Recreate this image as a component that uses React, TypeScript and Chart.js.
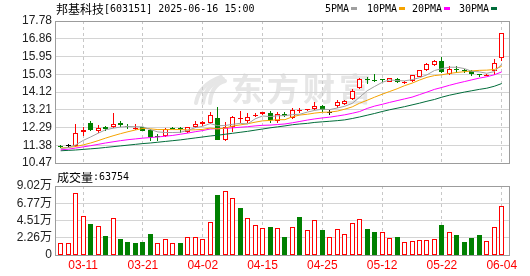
import React, { useEffect, useRef } from "react";
import { Chart, registerables } from "chart.js";

Chart.register(...registerables);

// ---------------- data ----------------
const STOCK_NAME = "邦基科技";
const STOCK_INFO = "[603151] 2025-06-16 15:00";
const VOLUME_TITLE = "成交量";
const LAST_VOLUME = "63754";
const WATERMARK = "东方财富";
const MA_LABELS = ["5PMA", "10PMA", "20PMA", "30PMA"];

const DATE_INDEX = [3, 11, 19, 27, 35, 43, 51, 59];
const DATE_LABELS = ["03-11", "03-21", "04-02", "04-15", "04-25", "05-12", "05-22", "06-04"];

const PRICE_TICKS = [10.47, 11.38, 12.29, 13.21, 14.12, 15.03, 15.95, 16.86, 17.78];
const VOLUME_TICKS = [0, 22550, 45100, 67650, 90200];
const VOLUME_TICK_LABELS = ["0", "2.26万", "4.51万", "6.77万", "9.02万"];

const PREV_CLOSE = 11.25;

const OPEN = [11.33, 11.32, 11.35, 12.05, 12.51, 12.12, 12.31, 12.33, 12.53, 12.39, 12.24, 12.30, 12.16, 11.84, 11.85, 12.27, 12.23, 12.05, 12.32, 12.48, 12.53, 12.80, 11.63, 12.32, 12.75, 12.65, 12.90, 13.00, 13.06, 12.65, 13.00, 12.80, 13.14, 13.18, 13.26, 13.38, 13.06, 13.38, 13.50, 13.78, 14.33, 14.75, 14.70, 14.74, 14.65, 14.78, 14.58, 14.67, 14.92, 15.24, 15.50, 15.70, 15.03, 15.28, 15.22, 15.19, 15.00, 14.96, 15.20, 15.90];
const HIGH = [11.40, 11.44, 12.47, 12.30, 12.62, 12.41, 12.36, 13.03, 12.62, 12.47, 12.46, 12.33, 12.20, 11.95, 12.28, 12.31, 12.34, 12.34, 12.62, 12.62, 13.11, 13.33, 12.57, 12.88, 13.13, 13.06, 13.04, 13.12, 13.14, 13.11, 13.12, 13.28, 13.28, 13.25, 13.62, 13.45, 13.21, 13.73, 13.70, 14.28, 14.86, 14.88, 15.07, 14.78, 14.86, 14.82, 14.68, 15.02, 15.28, 15.62, 15.78, 15.92, 15.45, 15.45, 15.30, 15.26, 15.06, 15.03, 15.82, 17.18];
const LOW = [11.22, 11.24, 11.30, 11.85, 12.12, 12.00, 12.14, 12.29, 12.30, 12.23, 12.17, 12.10, 11.62, 11.62, 11.82, 12.20, 12.04, 11.99, 12.26, 12.40, 12.50, 11.64, 11.62, 12.05, 12.52, 12.52, 12.82, 12.93, 12.55, 12.55, 12.85, 12.72, 13.02, 13.14, 13.20, 13.10, 12.92, 13.30, 13.45, 13.72, 14.28, 14.55, 14.66, 14.65, 14.62, 14.58, 14.55, 14.63, 14.88, 15.20, 15.45, 15.08, 14.98, 15.10, 15.12, 14.96, 14.90, 14.93, 15.00, 15.70];
const CLOSE = [11.31, 11.32, 12.04, 12.19, 12.18, 12.29, 12.20, 12.46, 12.45, 12.33, 12.27, 12.12, 11.80, 11.82, 12.20, 12.24, 12.20, 12.30, 12.49, 12.57, 12.94, 11.66, 12.32, 12.82, 12.80, 12.82, 12.94, 13.08, 12.66, 12.99, 12.90, 13.19, 13.16, 13.22, 13.43, 13.21, 13.06, 13.60, 13.65, 14.20, 14.78, 14.73, 14.68, 14.72, 14.82, 14.62, 14.65, 14.98, 15.24, 15.55, 15.72, 15.15, 15.33, 15.25, 15.20, 15.03, 14.98, 15.01, 15.62, 17.18];

const VOLUME = [15300, 15300, 80600, 50500, 40500, 37500, 24800, 47900, 20900, 17000, 15700, 17000, 27500, 15300, 20500, 15300, 15700, 23100, 23100, 20500, 42700, 78400, 83200, 74100, 61400, 47900, 38800, 34900, 36600, 34900, 23500, 36200, 49700, 32200, 45300, 32700, 23100, 33600, 27000, 41400, 46600, 34000, 30100, 29600, 21800, 23500, 17000, 18300, 19600, 19600, 20500, 39200, 29600, 26100, 17000, 22200, 26100, 18300, 36200, 63754];

const MA5 = [11.21, 11.26, 11.40, 11.63, 11.81, 12.00, 12.18, 12.26, 12.32, 12.35, 12.34, 12.33, 12.19, 12.07, 12.04, 12.04, 12.05, 12.15, 12.29, 12.36, 12.50, 12.39, 12.40, 12.46, 12.51, 12.48, 12.74, 12.89, 12.86, 12.90, 12.91, 12.96, 12.98, 13.09, 13.18, 13.24, 13.22, 13.30, 13.39, 13.54, 13.86, 14.19, 14.41, 14.62, 14.75, 14.71, 14.70, 14.76, 14.86, 15.01, 15.23, 15.33, 15.40, 15.40, 15.33, 15.19, 15.16, 15.09, 15.17, 15.56];
const MA10 = [11.24, 11.27, 11.32, 11.40, 11.50, 11.62, 11.75, 11.87, 11.98, 12.08, 12.17, 12.25, 12.23, 12.19, 12.19, 12.19, 12.19, 12.17, 12.18, 12.20, 12.27, 12.22, 12.27, 12.37, 12.43, 12.49, 12.57, 12.64, 12.66, 12.70, 12.70, 12.85, 12.94, 12.98, 13.04, 13.08, 13.09, 13.14, 13.24, 13.36, 13.55, 13.70, 13.86, 14.01, 14.15, 14.29, 14.45, 14.58, 14.74, 14.88, 14.97, 15.01, 15.08, 15.13, 15.17, 15.21, 15.24, 15.25, 15.28, 15.45];
const MA20 = [11.15, 11.18, 11.24, 11.30, 11.36, 11.43, 11.50, 11.56, 11.62, 11.67, 11.71, 11.75, 11.78, 11.81, 11.85, 11.89, 11.95, 12.01, 12.08, 12.14, 12.22, 12.24, 12.25, 12.28, 12.31, 12.34, 12.38, 12.41, 12.42, 12.45, 12.48, 12.54, 12.61, 12.68, 12.74, 12.79, 12.83, 12.89, 12.95, 13.03, 13.12, 13.28, 13.40, 13.49, 13.59, 13.68, 13.77, 13.86, 13.99, 14.12, 14.26, 14.36, 14.47, 14.57, 14.66, 14.75, 14.84, 14.91, 15.01, 15.16];
const MA30 = [11.10, 11.12, 11.14, 11.17, 11.20, 11.23, 11.27, 11.31, 11.35, 11.39, 11.43, 11.47, 11.50, 11.54, 11.58, 11.62, 11.66, 11.71, 11.76, 11.81, 11.86, 11.90, 11.95, 12.00, 12.05, 12.10, 12.16, 12.22, 12.28, 12.33, 12.38, 12.44, 12.48, 12.51, 12.56, 12.59, 12.62, 12.65, 12.69, 12.76, 12.84, 12.93, 13.02, 13.12, 13.21, 13.29, 13.37, 13.46, 13.55, 13.65, 13.74, 13.86, 13.96, 14.04, 14.12, 14.19, 14.26, 14.32, 14.42, 14.56];

// ---------------- styles ----------------
const RED = "#ff0000";
const GREEN = "#008000";
const BLACK = "#000000";
const MA_COLORS = ["#a0a0a0", "#f5a300", "#ff00ff", "#006c3a"];
const GRID = "#d4d4d4";
const DASH_GRID = "#c8c8c8";
const FRAME = "#9c9c9c";
const FONT = '"Liberation Sans", Arial, "Noto Sans CJK SC", sans-serif';
const X_MIN = -0.7625;
const X_MAX = 59.973;

const candleColor = (i: number) =>
  CLOSE[i] > OPEN[i] ? RED : CLOSE[i] < OPEN[i] ? GREEN : BLACK;
const volumeUp = (i: number) => {
  if (CLOSE[i] === OPEN[i]) return true;
  const prev = i === 0 ? PREV_CLOSE : CLOSE[i - 1];
  return CLOSE[i] >= prev;
};

const snapPlugin = {
  id: "snapBars",
  afterDatasetsUpdate(chart: any) {
    chart.data.datasets.forEach((_: any, di: number) => {
      const meta = chart.getDatasetMeta(di);
      if (meta.type !== "bar") return;
      meta.data.forEach((el: any) => {
        el.x = Math.floor(el.x) + 0.5;
        el.y = Math.round(el.y);
        el.base = Math.round(el.base);
        if (Math.abs(el.base - el.y) < 1) el.base = el.y + 1;
      });
    });
  },
};

const drawFrame = (chart: any) => {
  const { ctx, chartArea: a } = chart;
  ctx.save();
  ctx.strokeStyle = FRAME;
  ctx.lineWidth = 1;
  ctx.strokeRect(a.left + 0.5, a.top + 0.5, a.right - a.left, a.bottom - a.top);
  ctx.restore();
};

const priceDecor = {
  id: "priceDecor",
  beforeDraw(chart: any) {
    const ctx = chart.ctx;
    ctx.save();
    ctx.fillStyle = "#e6e6e6";
    ctx.strokeStyle = "#e6e6e6";
    // logo swoosh
    ctx.lineWidth = 4;
    ctx.lineCap = "round";
    for (let k = 0; k < 3; k++) {
      ctx.beginPath();
      ctx.moveTo(196 + k * 7, 103);
      ctx.quadraticCurveTo(199 + k * 6, 85, 221 + k * 2, 77 + k * 2);
      ctx.stroke();
    }
    ctx.font = 'bold 32px "Noto Sans CJK SC"';
    ctx.textBaseline = "middle";
    (ctx as any).letterSpacing = "4px";
    ctx.fillText(WATERMARK, 231, 89);
    ctx.restore();
  },
  beforeDatasetsDraw(chart: any) {
    drawFrame(chart);
  },
  afterDraw(chart: any) {
    const ctx = chart.ctx;
    ctx.save();
    ctx.fillStyle = "#000";
    ctx.textBaseline = "middle";
    ctx.font = '12px "Noto Sans CJK SC"';
    ctx.fillText(STOCK_NAME, 56, 9);
    const w = ctx.measureText(STOCK_NAME).width;
    ctx.font = '10px "DejaVu Sans Mono"';
    ctx.fillText(STOCK_INFO, 56 + w, 9);
    const xs = [325, 367, 412, 459];
    MA_LABELS.forEach((t, k) => {
      ctx.fillStyle = "#000";
      ctx.fillText(t, xs[k], 9);
      const tw = ctx.measureText(t).width;
      ctx.fillStyle = MA_COLORS[k];
      ctx.fillRect(Math.round(xs[k] + tw + 2), 7, 6, 3);
    });
    ctx.restore();
  },
};

const volumeDecor = {
  id: "volumeDecor",
  beforeDatasetsDraw(chart: any) {
    drawFrame(chart);
  },
  afterDraw(chart: any) {
    const ctx = chart.ctx;
    ctx.save();
    ctx.fillStyle = "#000";
    ctx.textBaseline = "middle";
    ctx.font = '12px "Noto Sans CJK SC"';
    ctx.fillText(VOLUME_TITLE, 57, 5);
    const w = ctx.measureText(VOLUME_TITLE).width;
    ctx.font = '10px "DejaVu Sans Mono"';
    ctx.fillText(":" + LAST_VOLUME, 57 + w, 5);
    ctx.restore();
  },
};

const xScale = (showLabels: boolean) => ({
  type: "linear",
  min: X_MIN,
  max: X_MAX,
  offset: false,
  afterBuildTicks: (s: any) => {
    s.ticks = DATE_INDEX.map((v) => ({ value: v }));
  },
  afterFit: (s: any) => {
    s.height = showLabels ? 21 : 0;
  },
  ticks: {
    display: showLabels,
    autoSkip: false,
    maxRotation: 0,
    padding: 3,
    color: RED,
    font: { family: FONT, size: 12 },
    callback: (_v: any, i: number) => DATE_LABELS[i],
  },
  grid: { color: DASH_GRID, drawTicks: false, offset: false, lineWidth: 1 },
  border: { display: false, dash: [3, 3] },
});

export default function App() {
  const priceRef = useRef<HTMLCanvasElement>(null);
  const volRef = useRef<HTMLCanvasElement>(null);

  useEffect(() => {
    const idx = OPEN.map((_, i) => i);
    const maLine = (vals: number[], k: number) => ({
      type: "line",
      label: MA_LABELS[k],
      data: vals.map((v, i) => ({ x: i, y: v })),
      borderColor: MA_COLORS[k],
      borderWidth: 1,
      pointRadius: 0,
      fill: false,
      tension: 0,
      order: 0,
    });

    const pc = new Chart(priceRef.current as HTMLCanvasElement, {
      type: "bar",
      data: {
        datasets: [
          maLine(MA5, 0),
          maLine(MA10, 1),
          maLine(MA20, 2),
          maLine(MA30, 3),
          {
            type: "bar",
            label: "body",
            data: idx.map((i) => ({ x: i, y: [OPEN[i], CLOSE[i]] })),
            backgroundColor: idx.map((i) => (CLOSE[i] > OPEN[i] ? "#ffffff" : candleColor(i))),
            borderColor: idx.map((i) => candleColor(i)),
            borderWidth: 1,
            borderSkipped: false,
            grouped: false,
            barThickness: 5,
            maxBarThickness: 5,
            minBarLength: 1,
            inflateAmount: 0,
            order: 1,
          },
          {
            type: "bar",
            label: "wick",
            data: idx.map((i) => ({ x: i, y: [LOW[i], HIGH[i]] })),
            backgroundColor: idx.map((i) => candleColor(i)),
            borderWidth: 0,
            grouped: false,
            barThickness: 1,
            maxBarThickness: 1,
            inflateAmount: 0,
            order: 2,
          },
        ],
      } as any,
      options: {
        responsive: false,
        animation: false,
        events: [],
        layout: { padding: { left: 0, top: 21, right: 21, bottom: 7 }, autoPadding: false },
        plugins: { legend: { display: false }, tooltip: { enabled: false } },
        scales: {
          x: xScale(false),
          y: {
            type: "linear",
            position: "left",
            min: PRICE_TICKS[0],
            max: PRICE_TICKS[PRICE_TICKS.length - 1],
            beginAtZero: false,
            afterBuildTicks: (s: any) => {
              s.ticks = PRICE_TICKS.map((v) => ({ value: v }));
            },
            afterFit: (s: any) => {
              s.width = 55;
            },
            ticks: {
              autoSkip: false,
              padding: 3,
              color: "#222",
              font: { family: FONT, size: 12, lineHeight: 1 },
              callback: (v: any) => Number(v).toFixed(2),
            },
            grid: { color: GRID, drawTicks: false },
            border: { display: false },
          },
        },
      } as any,
      plugins: [snapPlugin, priceDecor],
    });

    const vc = new Chart(volRef.current as HTMLCanvasElement, {
      type: "bar",
      data: {
        datasets: [
          {
            type: "bar",
            label: "volume",
            data: idx.map((i) => ({ x: i, y: VOLUME[i] })),
            backgroundColor: idx.map((i) => (volumeUp(i) ? "#ffffff" : GREEN)),
            borderColor: idx.map((i) => (volumeUp(i) ? RED : GREEN)),
            borderWidth: 1,
            borderSkipped: false,
            grouped: false,
            barThickness: 5,
            maxBarThickness: 5,
            inflateAmount: 0,
          },
        ],
      } as any,
      options: {
        responsive: false,
        animation: false,
        events: [],
        layout: { padding: { left: 0, top: 14, right: 21, bottom: 0 }, autoPadding: false },
        plugins: { legend: { display: false }, tooltip: { enabled: false } },
        scales: {
          x: xScale(true),
          y: {
            type: "linear",
            position: "left",
            min: VOLUME_TICKS[0],
            max: VOLUME_TICKS[VOLUME_TICKS.length - 1],
            afterBuildTicks: (s: any) => {
              s.ticks = VOLUME_TICKS.map((v) => ({ value: v }));
            },
            afterFit: (s: any) => {
              s.width = 55;
            },
            ticks: {
              autoSkip: false,
              padding: 3,
              color: "#222",
              font: { family: FONT, size: 12, lineHeight: 1 },
              callback: (_v: any, i: number) => VOLUME_TICK_LABELS[i],
            },
            grid: { color: GRID, drawTicks: false },
            border: { display: false },
          },
        },
      } as any,
      plugins: [snapPlugin, volumeDecor],
    });

    return () => {
      pc.destroy();
      vc.destroy();
    };
  }, []);

  return (
    <div
      style={{
        position: "absolute",
        left: 0,
        top: 0,
        width: 530,
        height: 276,
        background: "#ffffff",
        overflow: "hidden",
      }}
    >
      <canvas
        ref={priceRef}
        width={530}
        height={172}
        style={{ position: "absolute", left: 0, top: 0, width: 530, height: 172 }}
      />
      <canvas
        ref={volRef}
        width={530}
        height={104}
        style={{ position: "absolute", left: 0, top: 172, width: 530, height: 104 }}
      />
    </div>
  );
}
